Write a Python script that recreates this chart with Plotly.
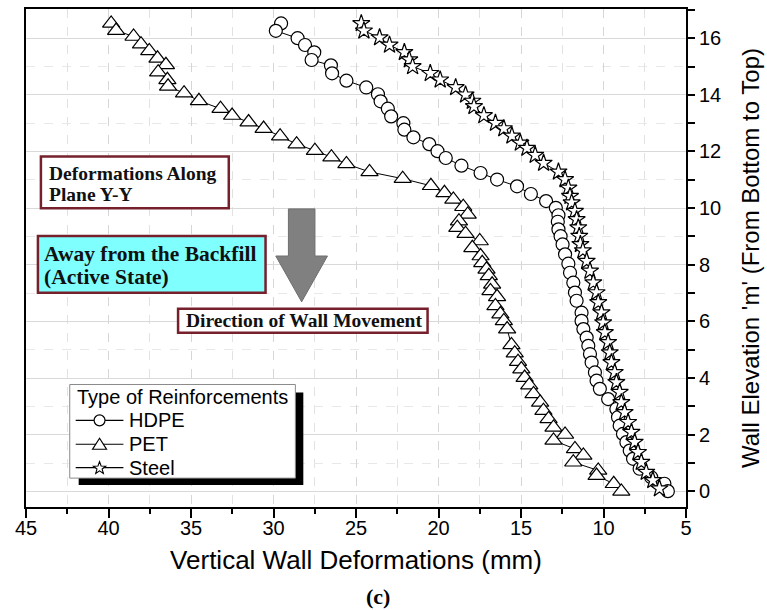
import math
import plotly.graph_objects as go

# ---- data ----
hdpe_x = [29.54, 29.86, 28.54, 28.09, 27.53, 27.69, 26.52, 26.45, 25.58, 24.38, 23.67, 23.51, 23.07, 22.87,
          22.13, 22.07, 21.52, 20.56, 20.06, 19.56, 18.61, 17.45, 16.45, 15.24, 14.40, 13.48, 12.89, 12.73,
          12.77, 12.73, 12.60, 12.48, 12.33, 12.13, 12.03, 11.83, 11.73, 11.63, 11.33, 11.33, 11.22, 11.02,
          10.92, 10.82, 10.72, 10.52, 10.42, 10.22, 9.72, 9.22, 9.12, 9.02, 8.82, 8.61, 8.41, 8.21, 7.81,
          7.11, 6.31, 6.10]
hdpe_y = [16.52, 16.26, 16.00, 15.76, 15.50, 15.23, 15.04, 14.76, 14.50, 14.26, 14.02, 13.77, 13.51, 13.24,
          13.00, 12.77, 12.50, 12.26, 12.01, 11.77, 11.50, 11.24, 11.01, 10.77, 10.50, 10.25, 10.01, 9.75,
          9.52, 9.25, 9.01, 8.72, 8.37, 8.04, 7.72, 7.37, 7.02, 6.73, 6.31, 6.02, 5.73, 5.43,
          5.14, 4.85, 4.55, 4.20, 3.91, 3.62, 3.26, 2.91, 2.62, 2.32, 2.03, 1.74, 1.44, 1.15, 0.80,
          0.50, 0.27, 0.01]

pet_x = [39.84, 39.54, 38.48, 38.03, 37.53, 37.03, 36.52, 36.99, 36.43, 36.39, 35.42, 34.52, 33.21, 32.51,
         31.51, 30.60, 29.60, 28.60, 27.49, 26.49, 25.58, 24.18, 22.17, 20.46, 19.64, 19.10, 18.50, 18.23,
         18.76, 18.86, 18.36, 17.50, 17.95, 17.45, 17.35, 17.09, 16.95, 16.75, 16.85, 16.45, 16.55, 16.25,
         16.04, 15.84, 15.58, 15.38, 15.18, 14.98, 14.78, 14.50, 14.24, 13.84, 13.64, 13.33, 13.03, 12.33,
         13.03, 11.73, 11.22, 11.83, 10.32, 10.42, 9.38, 8.92]
pet_y = [16.52, 16.27, 16.06, 15.79, 15.55, 15.29, 15.06, 14.80, 14.53, 14.30, 14.06, 13.79, 13.51, 13.27,
         13.04, 12.81, 12.54, 12.26, 12.03, 11.80, 11.56, 11.28, 11.04, 10.79, 10.54, 10.31, 10.05, 9.78,
         9.54, 9.31, 9.10, 8.84, 8.60, 8.31, 8.07, 7.84, 7.61, 7.31, 7.08, 6.87, 6.55, 6.26,
         6.02, 5.73, 5.17, 4.88, 4.58, 4.32, 4.02, 3.75, 3.44, 3.14, 2.85, 2.56, 2.26, 2.01,
         1.80, 1.50, 1.27, 1.03, 0.74, 0.56, 0.27, 0.00]

steel_x = [24.68, 24.52, 23.57, 22.97, 22.07, 21.77, 21.57, 20.50, 19.90, 18.96, 18.36, 17.95, 17.85, 17.25,
           16.55, 16.04, 15.55, 15.04, 14.64, 14.14, 13.63, 12.73, 12.33, 12.13, 12.03, 11.93, 11.73, 11.63,
           11.53, 11.47, 11.40, 11.25, 11.02, 10.82, 10.62, 10.42, 10.32, 10.12, 10.02, 9.92, 9.72, 9.62,
           9.52, 9.32, 9.22, 9.02, 8.92, 8.72, 8.51, 8.31, 8.11, 7.91, 7.71, 7.41, 7.01, 6.61]
steel_y = [16.52, 16.26, 16.02, 15.76, 15.50, 15.24, 15.00, 14.76, 14.53, 14.26, 14.00, 13.78, 13.59, 13.27,
           13.00, 12.81, 12.55, 12.30, 12.12, 11.87, 11.59, 11.28, 11.01, 10.71, 10.42, 10.19, 9.89, 9.60,
           9.31, 9.01, 8.72, 8.50, 8.13, 7.78, 7.37, 7.02, 6.67, 6.31, 5.96, 5.61, 5.26, 4.90,
           4.55, 4.20, 3.85, 3.50, 3.14, 2.79, 2.44, 2.09, 1.74, 1.38, 1.03, 0.68, 0.39, 0.10]

series_names = ["HDPE", "PET", "Steel"]
legend_title = "Type of Reinforcements"
x_tick_vals = [45, 40, 35, 30, 25, 20, 15, 10, 5]
y_tick_vals = [0, 2, 4, 6, 8, 10, 12, 14, 16]

# ---- figure ----
W, H = 767, 610
L, R, T, B = 26, 77, 7, 103
pw, ph = W - L - R, H - T - B


def px(xp):
    return (xp - L) / pw


def py(yp):
    return (H - B - yp) / ph


SANS = "Liberation Sans, Arial, sans-serif"
SERIF = "Liberation Serif, Times New Roman, serif"
MAROON = "#76202c"

fig = go.Figure()
styles = [
    (hdpe_x, hdpe_y, "circle", 13),
    (pet_x, pet_y, "triangle-up", 15),
    (steel_x, steel_y, "star", 13),
]
for name, (xs, ys, sym, sz) in zip(series_names, styles):
    fig.add_trace(go.Scatter(
        x=xs, y=ys, name=name, mode="lines+markers",
        line=dict(color="black", width=1),
        marker=dict(symbol=sym, size=sz, color="white", line=dict(color="black", width=1.2)),
    ))

fig.update_layout(
    width=W, height=H,
    margin=dict(l=L, r=R, t=T, b=B),
    paper_bgcolor="white", plot_bgcolor="white",
    font=dict(family=SANS, color="black"),
    showlegend=False,
    xaxis=dict(
        range=[45, 5], tickvals=x_tick_vals, ticks="outside", ticklen=9, tickwidth=2,
        tickcolor="black", showline=True, linecolor="black", linewidth=2, mirror=True,
        showgrid=True, gridcolor="#d6d6d6", griddash="dash", gridwidth=1,
        tickfont=dict(family=SANS, size=20, color="black"),
        ticklabelstandoff=-7,
        title=dict(text="Vertical Wall Deformations (mm)", font=dict(family=SANS, size=26, color="black"),
                   standoff=13),
        minor=dict(dtick=2.5, ticks="outside", ticklen=5, tickwidth=2, tickcolor="black",
                   showgrid=True, gridcolor="#e2e2e2", griddash="dash"),
        zeroline=False,
    ),
    yaxis=dict(
        range=[-0.55, 17.03], side="right", tickvals=y_tick_vals, ticks="outside", ticklen=7, tickwidth=1.5,
        tickcolor="black", showline=True, linecolor="black", linewidth=2, mirror=True,
        showgrid=True, gridcolor="#d9d9d9", gridwidth=1,
        tickfont=dict(family=SANS, size=20, color="black"),
        title=dict(text="Wall Elevation 'm' (From Bottom to Top)", font=dict(family=SANS, size=24, color="black"),
                   standoff=22),
        minor=dict(dtick=1, ticks="outside", ticklen=7, tickwidth=1.5, tickcolor="black",
                   showgrid=True, gridcolor="#e8e8e8", griddash="dash"),
        zeroline=False,
    ),
)


def rect(x0, y0, x1, y1, fill, line_color=None, lw=0):
    fig.add_shape(type="rect", xref="paper", yref="paper",
                  x0=px(x0), x1=px(x1), y0=py(y1), y1=py(y0),
                  fillcolor=fill, line=dict(color=line_color or fill, width=lw), layer="above")


def text(x, y, s, font, size, color="#111", xanchor="left"):
    fig.add_annotation(xref="paper", yref="paper", x=px(x), y=py(y), showarrow=False,
                       xanchor=xanchor, yanchor="middle", text=s,
                       font=dict(family=font, size=size, color=color))


def poly(points, fill, line_color, lw=1):
    path = "M " + " L ".join(f"{px(a):.5f},{py(b):.5f}" for a, b in points) + " Z"
    fig.add_shape(type="path", xref="paper", yref="paper", path=path,
                  fillcolor=fill, line=dict(color=line_color, width=lw), layer="above")


# text boxes
rect(41, 155, 230, 207, "white", MAROON, 2.5)
text(47, 172, "<b>Deformations Along</b>", SERIF, 19.5)
text(47, 193, "<b>Plane Y-Y</b>", SERIF, 19.5)

rect(38, 235, 267, 292, "#80ffff", MAROON, 2.5)
text(42, 253, "<b>Away from the Backfill</b>", SERIF, 21.5)
text(42, 276, "<b>(Active State)</b>", SERIF, 21.5)

rect(179, 308, 430, 332, "white", MAROON, 2.5)
text(185, 320, "<b>Direction of Wall Movement</b>", SERIF, 19.5)

# arrow
poly([(290, 207.7), (316.7, 207.7), (316.7, 255), (329.3, 255), (303.3, 301), (277.3, 255), (290, 255)],
     "#808080", "#6e6e6e")

# caption
text(380, 597, "<b>(c)</b>", SERIF, 22, "black", xanchor="center")

# hand-drawn legend box (Origin style with drop shadow)
rect(79, 392, 305, 485, "black")
rect(70, 384, 297, 478, "white", "#8a8a8a", 1)
text(75, 397, legend_title, SANS, 20, "black")
rows = [420, 444, 467.5]
kx0, kx1, kc = 76, 124, 100
for name, ry, (_, _, sym, _) in zip(series_names, rows, styles):
    fig.add_shape(type="line", xref="paper", yref="paper", x0=px(kx0), x1=px(kx1), y0=py(ry), y1=py(ry),
                  line=dict(color="black", width=1.2), layer="above")
    if sym == "circle":
        r = 5.5
        fig.add_shape(type="circle", xref="paper", yref="paper", x0=px(kc - r), x1=px(kc + r),
                      y0=py(ry + r), y1=py(ry - r), fillcolor="white",
                      line=dict(color="black", width=1.2), layer="above")
    elif sym == "triangle-up":
        poly([(kc, ry - 6), (kc + 7, ry + 5), (kc - 7, ry + 5)], "white", "black", 1.2)
    else:
        pts = []
        for k in range(10):
            rad = 6.5 if k % 2 == 0 else 2.7
            ang = -math.pi / 2 + k * math.pi / 5
            pts.append((kc + rad * math.cos(ang), ry + 0.5 + rad * math.sin(ang)))
        poly(pts, "white", "black", 1.1)
    text(128, ry, name, SANS, 20, "black")

fig.write_html("out.html")
